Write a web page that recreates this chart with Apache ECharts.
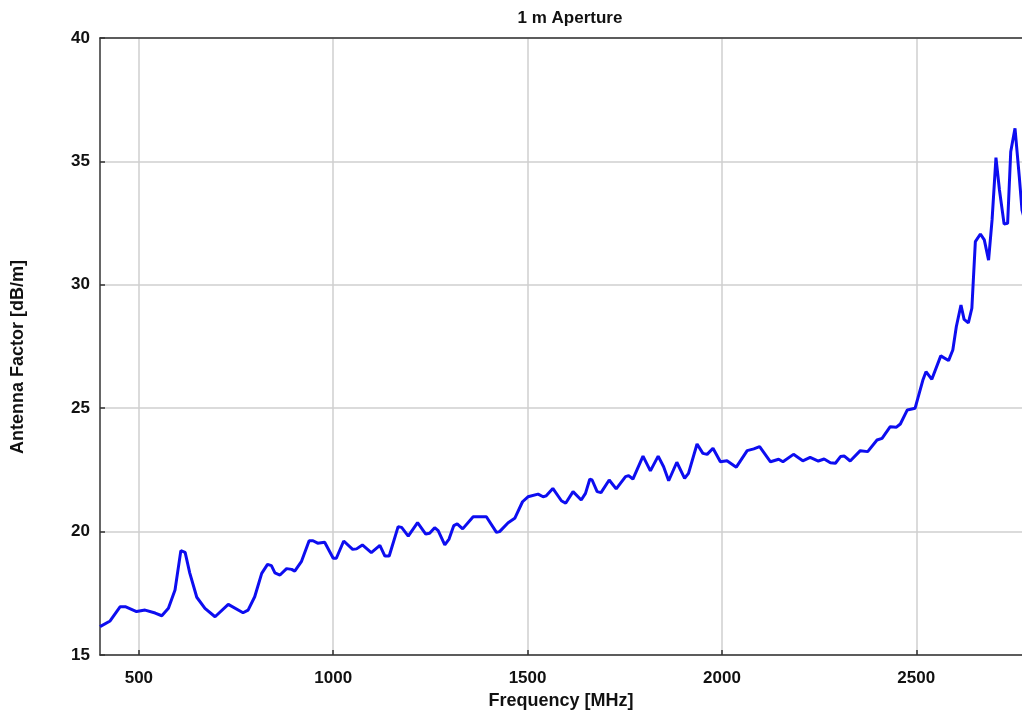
<!DOCTYPE html>
<html>
<head>
<meta charset="utf-8">
<script src="https://cdn.jsdelivr.net/npm/echarts@6/dist/echarts.min.js"></script>
<style>html,body{margin:0;padding:0;background:#fff}#c{width:1022px;height:715px}</style>
</head>
<body>
<div id="c"></div>
<script>
const titleText = '1 m Aperture';
const xName = 'Frequency [MHz]';
const yName = 'Antenna Factor [dB/m]';
const xTicks = [500, 1000, 1500, 2000, 2500];
const freq = [400,426,452,465,494,516,542,559,576,593,608,619,631,649,670,696,730,768,781,798,816,831,841,850,863,880,893,901,918,938,948,960,978,1000,1008,1027,1050,1060,1075,1098,1120,1133,1144,1167,1176,1193,1217,1238,1248,1261,1270,1287,1298,1310,1319,1333,1360,1394,1420,1428,1450,1467,1487,1501,1527,1540,1548,1565,1587,1598,1617,1638,1649,1660,1666,1679,1689,1710,1728,1752,1760,1771,1797,1816,1836,1850,1863,1884,1904,1914,1936,1951,1962,1977,1996,2013,2037,2065,2082,2097,2125,2146,2157,2184,2208,2227,2248,2263,2279,2292,2305,2315,2330,2356,2375,2399,2412,2433,2449,2459,2477,2497,2517,2525,2540,2563,2583,2594,2603,2615,2623,2634,2643,2652,2665,2675,2686,2695,2705,2714,2726,2735,2743,2754,2765,2772,2790];
const af = [16.15,16.38,16.96,16.96,16.76,16.82,16.70,16.59,16.89,17.63,19.23,19.16,18.32,17.34,16.89,16.55,17.05,16.71,16.82,17.36,18.31,18.67,18.62,18.33,18.24,18.50,18.47,18.40,18.78,19.63,19.63,19.53,19.57,18.92,18.92,19.62,19.28,19.30,19.46,19.15,19.44,19.01,19.01,20.20,20.17,19.82,20.36,19.90,19.93,20.16,20.04,19.46,19.70,20.24,20.31,20.11,20.60,20.60,19.97,20.00,20.36,20.54,21.21,21.41,21.52,21.41,21.45,21.75,21.25,21.15,21.62,21.28,21.55,22.12,22.09,21.62,21.58,22.09,21.73,22.23,22.27,22.13,23.06,22.46,23.06,22.63,22.06,22.81,22.16,22.36,23.55,23.17,23.13,23.38,22.83,22.87,22.61,23.28,23.35,23.44,22.83,22.93,22.83,23.13,22.87,23.01,22.86,22.94,22.79,22.77,23.04,23.06,22.86,23.28,23.24,23.71,23.78,24.25,24.23,24.36,24.93,25.00,26.14,26.48,26.17,27.12,26.93,27.36,28.30,29.18,28.60,28.46,29.05,31.75,32.06,31.82,31.00,32.63,35.15,33.84,32.46,32.49,35.39,36.34,34.38,33.03,32.0];

const chart = echarts.init(document.getElementById('c'), null, {renderer: 'canvas'});
const FF = '"Liberation Sans", Arial, sans-serif';
const labelFont = {fontFamily: FF, fontWeight: 'bold', fontSize: 17, color: '#111'};
const X_MIN = 400, X_MAX = 2772;
chart.setOption({
  animation: false,
  backgroundColor: '#fff',
  title: {
    text: titleText, left: 565, top: 5, textAlign: 'center',
    textStyle: {fontFamily: FF, fontWeight: 'bold', fontSize: 17, color: '#111'}
  },
  grid: {left: 100, top: 38, right: 0, bottom: 60, show: false, containLabel: false, outerBoundsMode: 'none'},
  xAxis: [{
    type: 'value', min: X_MIN, max: X_MAX, position: 'bottom',
    name: xName, nameLocation: 'middle', nameGap: 37,
    nameTextStyle: Object.assign({}, labelFont, {fontSize: 18}),
    axisLine: {show: true, onZero: false, lineStyle: {color: '#333', width: 1.5}},
    axisTick: {show: true, inside: true, length: 5, customValues: xTicks, lineStyle: {color: '#333', width: 1.5}},
    axisLabel: Object.assign({customValues: xTicks, margin: 15, formatter: v => String(v)}, labelFont),
    splitLine: {show: true, lineStyle: {color: '#cfcfcf', width: 1.5}}
  }, {
    type: 'value', min: X_MIN, max: X_MAX, position: 'top',
    axisLine: {show: true, onZero: false, lineStyle: {color: '#333', width: 1.5}},
    axisTick: {show: false}, axisLabel: {show: false}, splitLine: {show: false}
  }],
  yAxis: {
    type: 'value', min: 15, max: 40, interval: 5,
    axisLine: {show: true, onZero: false, lineStyle: {color: '#333', width: 1.5}},
    axisTick: {show: true, inside: true, length: 5, lineStyle: {color: '#333', width: 1.5}},
    axisLabel: Object.assign({margin: 10}, labelFont),
    splitLine: {show: true, lineStyle: {color: '#cfcfcf', width: 1.5}}
  },
  graphic: [{
    type: 'text', x: 18, y: 357, rotation: Math.PI / 2,
    style: {text: yName, x: 0, y: 0, align: 'center', verticalAlign: 'middle',
      font: 'bold 18px "Liberation Sans", Arial, sans-serif', fill: '#111'}
  }],
  series: [{
    type: 'line', xAxisIndex: 0, data: freq.map((f, i) => [f, af[i]]),
    showSymbol: false, symbol: 'none',
    lineStyle: {color: '#0d0df0', width: 3}
  }]
});
</script>
</body>
</html>
